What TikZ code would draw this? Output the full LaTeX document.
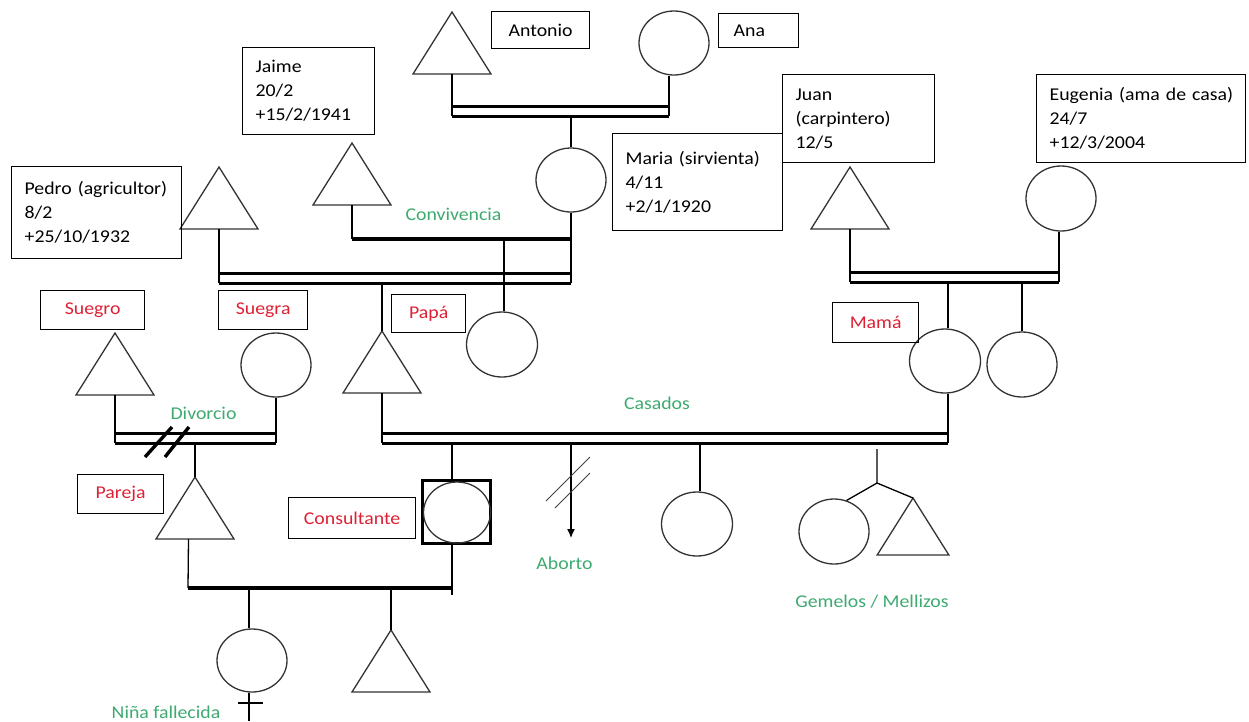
\documentclass[tikz,border=0pt]{standalone}
\usepackage{fontspec}
\setmainfont{Carlito}[FakeStretch=1.1]
\usetikzlibrary{shapes.geometric,arrows.meta}
\definecolor{lblred}{RGB}{222,32,52}
\definecolor{lblgreen}{RGB}{62,170,112}
\tikzset{
  ln/.style={line width=1.3pt},
  bar/.style={line width=3.4pt},
  marr/.style={line width=3pt, double=white, double distance=7pt},
  fem/.style={draw=black!80, line width=1.3pt, ellipse, minimum width=70pt, minimum height=64pt, inner sep=0pt},
  infobox/.style={draw, line width=1.3pt, anchor=north west, inner xsep=13pt, inner ysep=0pt, align=left},
  lblbox/.style={draw, line width=1.3pt, anchor=north west, inner sep=0pt, align=center},
  redtxt/.style={text=lblred},
  note/.style={text=lblgreen, inner sep=0pt},
  male/.pic={
    \draw[draw=black!80, line width=1.3pt, line join=miter] (0,0) -- (-39,62) -- (39,62) -- cycle;
    \coordinate (-top) at (0,0);
    \coordinate (-bot) at (0,62);
  }
}
\begin{document}
\begin{tikzpicture}[x=1pt, y=-1pt, every node/.style={font=\fontsize{18}{24}\selectfont}]
\useasboundingbox (0,0) rectangle (1249,721);

% ---------- generation 1 (Antonio & Ana)
\pic (antonio) at (452,12) {male};
\node[fem] (ana) at (674,43) {};
\node[lblbox, minimum width=98pt, minimum height=37pt] (antoniolbl) at (491,11) {Antonio};
\node[lblbox, minimum width=80pt, minimum height=34pt, text width=50pt, align=left, inner xsep=15pt] (analbl) at (718,13) {Ana};
\coordinate (aa-l) at (452,116);
\coordinate (aa-r) at (669,116);
\draw[marr] ([yshift=5pt]aa-l) -- ([yshift=5pt]aa-r);
\draw[ln] (antonio-bot) -- (aa-l);
\draw[ln] ([xshift=-5pt]ana.south) -- (aa-r);

% ---------- Maria, Jaime, Pedro
\node[fem] (maria) at (571,180) {};
\draw[ln] (maria.north |- aa-l) -- (maria.north);
\node[infobox, text width=144pt, minimum height=97pt] (mariabox) at (612,133) {Maria (sirvienta)\\4/11\\+2/1/1920};

\pic (jaime) at (352,143) {male};
\node[infobox, text width=106pt, minimum height=87pt] (jaimebox) at (242,47) {Jaime\\20/2\\+15/2/1941};

\pic (pedro) at (219,167) {male};
\node[infobox, text width=144pt, minimum height=92pt] (pedrobox) at (11,166) {Pedro (agricultor)\\8/2\\+25/10/1932};

\coordinate (pm-l) at (219,283);
\coordinate (pm-r) at (571,283);
\draw[marr] ([yshift=5pt]pm-l) -- ([yshift=5pt]pm-r);
\draw[ln] (pedro-bot) -- (pm-l);
\draw[ln] (maria.south) -- (pm-r);

\coordinate (cv-l) at (352,239);
\coordinate (cv-r) at (571,239);
\draw[bar] (cv-l) -- (cv-r);
\draw[ln] (jaime-bot) -- (cv-l);
\node[note] (conv) at (453.5,214) {Convivencia};

% children of Maria
\node[fem, minimum width=71pt, minimum height=65pt] (papasis) at (502,344.5) {};
\draw[ln] ([xshift=2pt]papasis.north |- cv-l) -- ([xshift=2pt]papasis.north);
\pic (papa) at (382,331) {male};
\draw[ln] (papa-top |- pm-l) -- (papa-top);
\node[lblbox, redtxt, minimum width=74pt, minimum height=38pt] (papalbl) at (391,294) {Papá};

% ---------- Juan & Eugenia
\pic (juan) at (850,167) {male};
\node[infobox, text width=126pt, minimum height=88pt] (juanbox) at (782,74) {Juan\\(carpintero)\\12/5};
\node[fem, minimum height=65pt] (eugenia) at (1061,198.5) {};
\node[infobox, text width=183pt, minimum height=88pt] (eugbox) at (1036,74) {\mbox{Eugenia (ama de casa)}\\24/7\\+12/3/2004};
\coordinate (je-l) at (850,282);
\coordinate (je-r) at (1059,282);
\draw[marr] ([yshift=5pt]je-l) -- ([yshift=5pt]je-r);
\draw[ln] (juan-bot) -- (je-l);
\draw[ln] ([xshift=-2pt]eugenia.south) -- (je-r);

\node[fem, minimum width=71pt] (mama) at (945,361) {};
\node[fem, minimum height=65pt] (mamasis) at (1022,364.5) {};
\draw[ln] ([xshift=3pt]mama.north |- je-l) -- ([xshift=3pt]mama.north);
\draw[ln] (mamasis.north |- je-l) -- (mamasis.north);
\node[lblbox, redtxt, minimum width=86pt, minimum height=40pt] (mamalbl) at (832,302) {Mamá};

% ---------- Suegro & Suegra (divorced)
\pic (suegro) at (115,333) {male};
\node[fem] (suegra) at (276,365) {};
\node[lblbox, redtxt, minimum width=104pt, minimum height=39pt] (suegrolbl) at (40,290) {Suegro};
\node[lblbox, redtxt, minimum width=89pt, minimum height=39pt] (suegralbl) at (218,290) {Suegra};
\coordinate (dv-l) at (115,443);
\coordinate (dv-r) at (276,443);
\draw[marr] ([yshift=5pt]dv-l) -- ([yshift=5pt]dv-r);
\draw[ln] (suegro-bot) -- (dv-l);
\draw[ln] (suegra.south) -- (dv-r);
\draw[bar] (145,457) -- (172,427);
\draw[bar] (165,457) -- (189,427);
\node[note] (divorcio) at (203.5,413) {Divorcio};

\pic (pareja) at (195,477) {male};
\draw[ln] (pareja-top |- dv-l) -- (pareja-top);
\node[lblbox, redtxt, minimum width=86pt, minimum height=39pt] (parejalbl) at (77,474) {Pareja};

% ---------- Papa & Mama (married)
\coordinate (cs-l) at (382,443);
\coordinate (cs-r) at (948,443);
\draw[marr] ([yshift=5pt]cs-l) -- ([yshift=5pt]cs-r);
\draw[ln] (papa-bot) -- (cs-l);
\draw[ln] ([xshift=3pt]mama.south) -- (cs-r);
\node[note] (casados) at (657,403) {Casados};

% consultante
\node[draw, line width=3pt, rectangle, minimum width=68pt, minimum height=63pt, inner sep=0pt] (cons) at (456,512) {};
\node[fem, minimum width=67pt, minimum height=61pt] (conscirc) at (457,512.5) {};
\draw[ln] ([xshift=-4pt]cons.north |- cs-l) -- ([xshift=-4pt]cons.north);
\node[lblbox, redtxt, minimum width=127pt, minimum height=41pt] (conslbl) at (288,497) {Consultante};

% aborto
\coordinate (ab-top) at (571,443);
\coordinate (ab-tip) at (571,538);
\draw[ln, -{Latex[length=9pt,width=8pt]}] (ab-top) -- (ab-tip);
\draw[line width=1pt, black!75] (546,501) -- (590,457);
\draw[line width=1pt, black!75] (555,508) -- (590,473);
\node[note] (aborto) at (564.5,563) {Aborto};

% daughter
\node[fem, minimum width=71pt] (dau) at (697,524) {};
\draw[ln] ([xshift=3pt]dau.north |- cs-l) -- ([xshift=3pt]dau.north);

% twins
\coordinate (tw-top) at (877,449);
\coordinate (tw-fork) at (877,483);
\node[fem, minimum height=65pt] (twf) at (834,531.5) {};
\pic[scale=0.92] (twm) at (913,498) {male};
\draw[ln] (tw-top) -- (tw-fork) -- (twf.68);
\draw[ln] (tw-fork) -- (twm-top);
\node[note] (gemelos) at (872,602) {Gemelos / Mellizos};

% ---------- Pareja & Consultante
\coordinate (pc-l) at (188,588);
\coordinate (pc-r) at (452,588);
\coordinate (pc-r2) at (452,595);
\draw[bar] (pc-l) -- (pc-r);
\draw[ln] ([xshift=-6.5pt]pareja-bot) -- (pc-l);
\draw[ln] ([xshift=-4pt]cons.south) -- (pc-r2);

\node[fem, minimum height=63pt] (girl) at (252,660.5) {};
\draw[ln] ([xshift=-3pt]girl.north |- pc-l) -- ([xshift=-3pt]girl.north);
\coordinate (girl-end) at (249,721);
\coordinate (cross-l) at (238,703);
\coordinate (cross-r) at (263,703);
\draw[ln] ([xshift=-3pt]girl.south) -- (girl-end);
\draw[ln] (cross-l) -- (cross-r);
\node[note] (nina) at (166,712) {Niña fallecida};

\pic (boy) at (391,630) {male};
\draw[ln] (boy-top |- pc-l) -- (boy-top);
\end{tikzpicture}
\end{document}
